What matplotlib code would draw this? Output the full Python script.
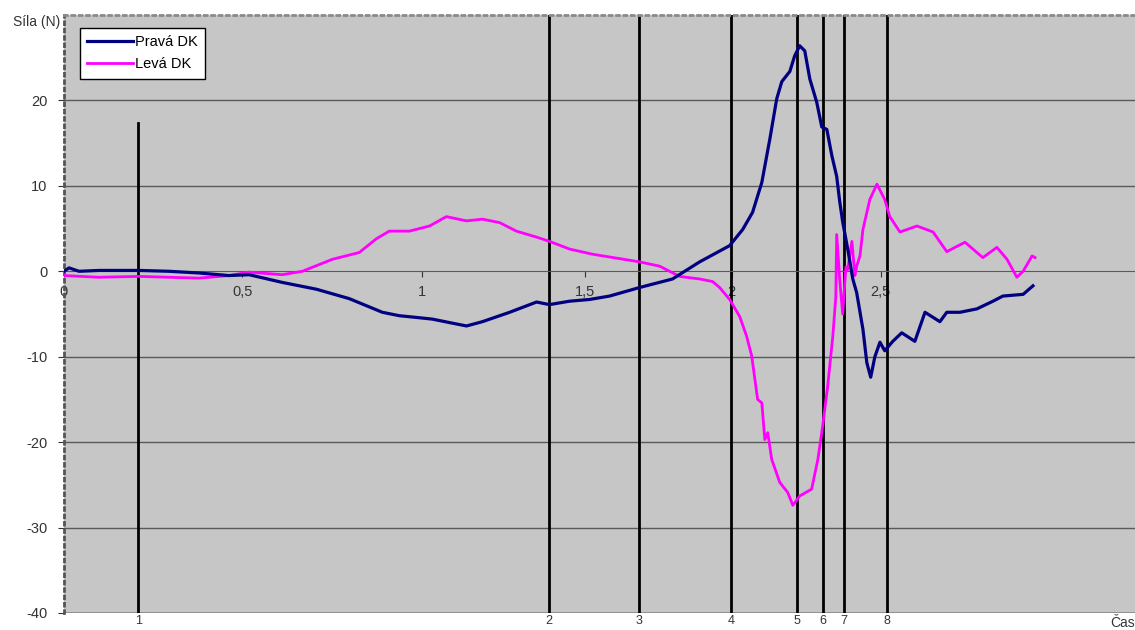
import numpy as np
import matplotlib.pyplot as plt

plt.rcParams['font.family'] = ['Liberation Sans', 'DejaVu Sans']
plt.rcParams['axes.unicode_minus'] = False

# Pravá DK (modrá) - čas (s), síla (N)
t_prava = [0.000, 0.014, 0.042, 0.098, 0.211, 0.295, 0.379, 0.463, 0.519, 0.611,
           0.706, 0.797, 0.889, 0.936, 0.983, 1.031, 1.083, 1.136, 1.185, 1.269,
           1.352, 1.392, 1.454, 1.517, 1.585, 1.687, 1.799, 1.891, 1.993, 2.037,
           2.070, 2.101, 2.128, 2.151, 2.168, 2.195, 2.211, 2.228, 2.245, 2.262,
           2.285, 2.302, 2.319, 2.336, 2.352, 2.362, 2.372, 2.389, 2.406, 2.419,
           2.440, 2.453, 2.466, 2.480, 2.497, 2.513, 2.540, 2.570, 2.614, 2.648,
           2.698, 2.721, 2.765, 2.822, 2.876, 2.909, 2.977, 3.010]
f_prava = [0.0, 0.4, 0.0, 0.1, 0.1, 0.0, -0.2, -0.5, -0.4, -1.3,
           -2.1, -3.2, -4.8, -5.2, -5.4, -5.6, -6.0, -6.4, -5.9, -4.8,
           -3.6, -3.9, -3.5, -3.3, -2.9, -1.9, -0.9, 1.1, 3.0, 4.9,
           6.9, 10.4, 15.5, 20.2, 22.2, 23.4, 25.2, 26.4, 25.8, 22.5,
           19.8, 16.9, 16.6, 13.5, 11.1, 8.2, 5.8, 2.6, -0.9, -2.5,
           -6.8, -10.7, -12.4, -10.0, -8.3, -9.3, -8.2, -7.2, -8.2, -4.8,
           -5.9, -4.8, -4.8, -4.4, -3.5, -2.9, -2.7, -1.7]

# Levá DK (purpurová)
t_leva = [0.000, 0.098, 0.211, 0.379, 0.463, 0.519, 0.611, 0.667, 0.750, 0.825,
          0.872, 0.908, 0.964, 1.022, 1.074, 1.136, 1.185, 1.238, 1.290, 1.352,
          1.392, 1.454, 1.527, 1.687, 1.755, 1.823, 1.891, 1.935, 1.959, 1.993,
          2.027, 2.050, 2.067, 2.087, 2.101, 2.111, 2.121, 2.134, 2.161, 2.188,
          2.205, 2.228, 2.268, 2.289, 2.305, 2.322, 2.339, 2.349, 2.352, 2.362,
          2.372, 2.383, 2.389, 2.403, 2.413, 2.419, 2.430, 2.440, 2.463, 2.487,
          2.513, 2.530, 2.564, 2.621, 2.675, 2.721, 2.782, 2.842, 2.889, 2.923,
          2.956, 2.977, 3.007, 3.017]
f_leva = [-0.5, -0.7, -0.6, -0.8, -0.5, -0.1, -0.4, 0.0, 1.4, 2.2,
          3.8, 4.7, 4.7, 5.3, 6.4, 5.9, 6.1, 5.7, 4.7, 4.0,
          3.5, 2.6, 2.0, 1.1, 0.6, -0.6, -0.9, -1.2, -1.9, -3.3,
          -5.3, -7.6, -9.9, -15.0, -15.4, -19.7, -18.9, -22.0, -24.7, -25.9,
          -27.4, -26.3, -25.5, -22.0, -18.1, -13.4, -7.6, -3.0, 4.3, -0.9,
          -5.0, 0.5, 0.2, 3.5, -0.5, 0.6, 1.8, 4.9, 8.4, 10.2,
          8.4, 6.4, 4.6, 5.3, 4.6, 2.3, 3.4, 1.6, 2.8, 1.4,
          -0.7, 0.0, 1.8, 1.6]

# Fáze pohybu (svislé čáry)
faze_labels = ["1", "2", "3", "4", "5", "6", "7", "8"]
faze_t = [0.208, 1.389, 1.684, 1.997, 2.218, 2.305, 2.376, 2.520]
faze_top = [17.3, 30, 30, 30, 30, 30, 30, 30]

# Nerovnoměrná časová osa (kategoriová osa z Excelu)
knot_t = [0.0, 0.5, 1.0, 1.5, 2.0, 2.5, 3.5]
knot_p = [65, 243, 423, 585, 732, 881, 1179]

def fwd(t):
    return np.interp(t, knot_t, knot_p)

def inv(p):
    return np.interp(p, knot_p, knot_t)

fig = plt.figure(figsize=(11.35, 6.3), dpi=100)
ax = fig.add_axes([64 / 1135, 17 / 630, 1 - 64 / 1135, 598 / 630])
ax.set_facecolor("#c6c6c6")
ax.set_xscale("function", functions=(fwd, inv))
ax.set_xlim(0, 3.352)
ax.set_ylim(-40, 30)

for y in [20, 10, -10, -20, -30]:
    ax.axhline(y, color="#5a5a5a", lw=1, zorder=1)
ax.axhline(-40, color="#8a8a8a", lw=2, zorder=1)

for t, top in zip(faze_t, faze_top):
    ax.plot([t, t], [-40, top], color="black", lw=2, zorder=2)

ax.plot(t_prava, f_prava, color="#000080", lw=2.3, label="Pravá DK", zorder=4)
ax.plot(t_leva, f_leva, color="#ff00ff", lw=2.0, label="Levá DK", zorder=3)

ax.spines["bottom"].set_position(("data", 0))
ax.spines["bottom"].set_color("#5a5a5a")
ax.spines["right"].set_visible(False)
ax.spines["top"].set_color("#8a8a8a")
ax.spines["top"].set_linestyle(":")
ax.spines["top"].set_linewidth(2)
ax.spines["left"].set_color("#555555")
ax.spines["left"].set_linestyle(":")
ax.spines["left"].set_linewidth(2)

ax.set_xticks([0, 0.5, 1, 1.5, 2, 2.5])
ax.set_xticklabels(["0", "0,5", "1", "1,5", "2", "2,5"])
ax.set_yticks([-40, -30, -20, -10, 0, 10, 20])
ax.tick_params(axis="x", direction="out", length=4, color="#333333",
               labelsize=10.5, labelcolor="#333333", pad=6)
ax.tick_params(axis="y", direction="out", length=4, color="#333333",
               labelsize=10.5, labelcolor="#333333", pad=8)

fig.text(60 / 1135, 1 - 22 / 630, "Síla (N)", ha="right", va="center",
         fontsize=10, color="#333333")
fig.text(1110 / 1135, 1 - 623 / 630, "Čas", ha="left", va="center",
         fontsize=10, color="#333333")

for lab, t in zip(faze_labels, faze_t):
    ax.annotate(lab, xy=(t, -40), xytext=(0, -6), textcoords="offset points",
                ha="center", va="center", fontsize=9, color="#333333",
                annotation_clip=False)

leg = ax.legend(loc="upper left", bbox_to_anchor=(16 / 1071, 0.978),
                borderaxespad=0, fancybox=False, framealpha=1,
                edgecolor="black", fontsize=10.5, handlelength=3.1,
                borderpad=0.5, labelspacing=0.55, handletextpad=0.15)
leg.get_frame().set_linewidth(1)

fig.savefig("out.png", dpi=100)
